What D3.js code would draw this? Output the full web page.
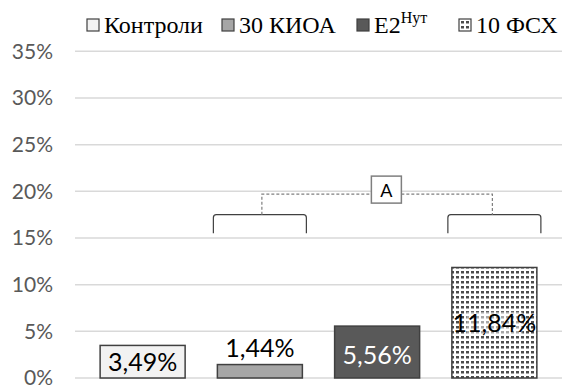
<!DOCTYPE html>
<html>
<head>
<meta charset="utf-8">
<script src="https://cdn.jsdelivr.net/npm/d3@7"></script>
<style>
  body { margin: 0; background: #fff; }
  svg { display: block; }
</style>
</head>
<body>
<div id="chart"></div>
<script>
// data
const categories = ["Контроли", "30 КИОА", "E2Нут", "10 ФСХ"];
const values = [3.49, 1.44, 5.56, 11.84];
const fills = ["#f2f2f2", "#a6a6a6", "#595959", "url(#dots)"];
const yTicks = [0, 5, 10, 15, 20, 25, 30, 35];
const groupPair = ["30 КИОА", "10 ФСХ"];
const groupLabel = "A";

const W = 565, H = 389;
const sansFont = "Lato, 'Open Sans', sans-serif";
const serifFont = "'Liberation Serif', 'Times New Roman', serif";
const legendX = [87, 222, 357, 459];

const svg = d3.select("#chart").append("svg")
  .attr("width", W).attr("height", H);

// dotted pattern for the last bar
const defs = svg.append("defs");
const pat = defs.append("pattern")
  .attr("id", "dots")
  .attr("width", 5).attr("height", 5)
  .attr("patternUnits", "userSpaceOnUse");
pat.append("rect").attr("width", 5).attr("height", 5).attr("fill", "#fff");
pat.append("rect").attr("x", 1).attr("y", 1).attr("width", 3).attr("height", 2.5).attr("fill", "#4d4d4d");

const x = d3.scaleBand()
  .domain(categories)
  .range([84, 553])
  .paddingInner(0.275)
  .paddingOuter(0.1375);

const y = d3.scaleLinear()
  .domain([0, 35])
  .range([378, 51.3]);

// gridlines
svg.append("g")
  .selectAll("line")
  .data(yTicks)
  .join("line")
    .attr("x1", 75).attr("x2", 562)
    .attr("y1", d => y(d)).attr("y2", d => y(d))
    .attr("stroke", "#d9d9d9")
    .attr("stroke-width", 1.5);

// y axis labels
const yAxis = svg.append("g")
  .attr("transform", "translate(53,0)")
  .call(d3.axisLeft(y).tickValues(yTicks).tickSize(0).tickPadding(0).tickFormat(d => d + "%"));
yAxis.select(".domain").remove();
yAxis.selectAll("text")
  .attr("font-family", sansFont)
  .attr("font-size", 21)
  .attr("fill", "#595959");

// bars
svg.append("g")
  .selectAll("rect")
  .data(categories)
  .join("rect")
    .attr("x", d => x(d))
    .attr("y", (d, i) => y(values[i]))
    .attr("width", x.bandwidth())
    .attr("height", (d, i) => y(0) - y(values[i]))
    .attr("fill", (d, i) => fills[i])
    .attr("stroke", "#404040")
    .attr("stroke-width", 1.5);

const fmt = v => v.toFixed(2).replace(".", ",") + "%";

// labels
const lab = svg.append("g")
  .attr("font-family", sansFont)
  .attr("font-size", 25)
  .attr("text-anchor", "middle");

categories.forEach((c, i) => {
  const cx = x(c) + x.bandwidth() / 2;
  const v = values[i];
  let ty, col = "#000";
  if (i === 1) {
    ty = y(v) - 8;
  } else {
    ty = (y(v) + y(0)) / 2 + 9;
  }
  if (i === 2) { col = "#fff"; ty += 3; }
  if (i === 3) {
    lab.append("rect")
      .attr("x", cx - 28).attr("y", ty - 20)
      .attr("width", 56).attr("height", 24)
      .attr("fill", "#fff").attr("opacity", 0.5);
  }
  lab.append("text")
    .attr("x", cx).attr("y", ty)
    .attr("fill", col)
    .text(fmt(v));
});

// significance bracket
const ann = svg.append("g");
const bTop = y(17.5), bBot = y(15.5), dashY = y(19.7);
groupPair.forEach(c => {
  const x0 = x(c) - 4, x1 = x(c) + x.bandwidth() + 4, r = 3;
  ann.append("path")
    .attr("d", `M${x0},${bBot} L${x0},${bTop + r} Q${x0},${bTop} ${x0 + r},${bTop} L${x1 - r},${bTop} Q${x1},${bTop} ${x1},${bTop + r} L${x1},${bBot}`)
    .attr("fill", "none")
    .attr("stroke", "#404040")
    .attr("stroke-width", 1.2);
});
const cL = x(groupPair[0]) + x.bandwidth() / 2 + 2;
const cR = x(groupPair[1]) + x.bandwidth() / 2 - 2;
ann.append("path")
  .attr("d", `M${cL},${bTop} L${cL},${dashY} L${cR},${dashY} L${cR},${bTop}`)
  .attr("fill", "none")
  .attr("stroke", "#7f7f7f")
  .attr("stroke-width", 1.2)
  .attr("stroke-dasharray", "3,2");
const boxC = x(groupPair[0]) + x.bandwidth() + 84;
ann.append("rect")
  .attr("x", boxC - 15).attr("y", dashY - 18)
  .attr("width", 30).attr("height", 27)
  .attr("fill", "#fff")
  .attr("stroke", "#7f7f7f")
  .attr("stroke-width", 1.5);
ann.append("text")
  .attr("x", boxC).attr("y", dashY + 3)
  .attr("text-anchor", "middle")
  .attr("font-family", sansFont)
  .attr("font-size", 18)
  .text(groupLabel);

// legend
const leg = svg.append("g").attr("font-family", serifFont).attr("font-size", 24);
const ly = 33;
categories.forEach((c, i) => {
  const lx = legendX[i];
  leg.append("rect")
    .attr("x", lx).attr("y", ly - 14)
    .attr("width", 12).attr("height", 12)
    .attr("fill", fills[i])
    .attr("stroke", "#404040")
    .attr("stroke-width", 1.2);
  const t = leg.append("text").attr("x", lx + 17).attr("y", ly);
  if (c === "E2Нут") {
    t.append("tspan").text("E2");
    t.append("tspan").attr("font-size", 16).attr("dy", -10).text("Нут");
  } else {
    t.text(c);
  }
});
</script>
</body>
</html>
